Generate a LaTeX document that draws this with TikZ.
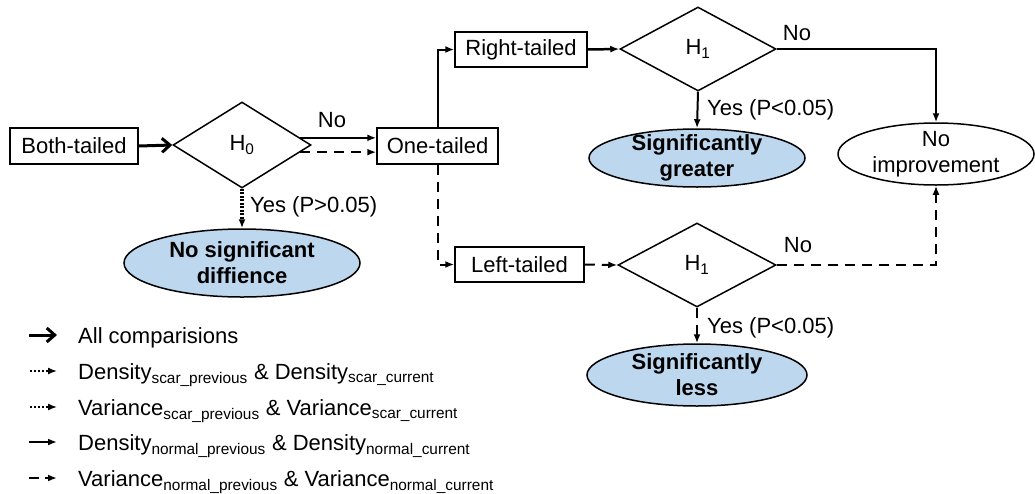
\documentclass[tikz,border=0pt]{standalone}
\usepackage{fontspec}
\setmainfont{Liberation Sans}
\usetikzlibrary{shapes.geometric,arrows.meta}
\definecolor{ellfill}{RGB}{189,215,238}
\begin{document}
\begin{tikzpicture}[x=1pt,y=-1pt,
  font=\fontsize{22}{26}\selectfont,
  box/.style={draw,line width=1.5pt,minimum height=36pt,inner sep=0pt},
  dia/.style={draw,diamond,line width=1.5pt,inner sep=0pt},
  ell/.style={draw,ellipse,line width=1.5pt,inner sep=0pt},
  res/.style={ell,fill=ellfill},
  lab/.style={inner sep=0pt},
  yeslab/.style={inner sep=0pt,anchor=west,font=\fontsize{22}{26}\selectfont},
  txt/.style={inner sep=0pt,align=center},
  legtxt/.style={inner sep=0pt,anchor=base west},
  tip/.style={-{Latex[length=9pt,width=7pt]}},
  conn/.style={line width=2pt,tip},
  dashedconn/.style={conn,dash pattern=on 10pt off 7pt},
  dottedconn/.style={line width=3.5pt,dash pattern=on 2pt off 1.5pt,tip},
  thickconn/.style={line width=3pt,-{Straight Barb[length=8pt,width=14pt,line width=3pt]}},
]
\useasboundingbox (0,0) rectangle (1035,493);

% boxes
\node[box,minimum width=128pt] (both) at (74,146) {Both-tailed};
\node[box,minimum width=121pt] (one) at (437.5,146) {One-tailed};
\node[box,minimum width=132pt,minimum height=35pt] (right) at (521,49.5) {Right-tailed};
\node[box,minimum width=129pt,minimum height=35pt] (left) at (519.5,264.5) {Left-tailed};

% diamonds
\node[dia,minimum width=138pt,minimum height=86pt] (h0) at (242,145) {H\textsubscript{0}};
\node[dia,minimum width=156pt,minimum height=84pt] (h1a) at (698,49) {H\textsubscript{1}};
\node[dia,minimum width=158pt,minimum height=84pt] (h1b) at (697,265) {H\textsubscript{1}};

% ellipses
\node[res,minimum width=236pt,minimum height=68pt] (nsd) at (242,263) {};
\node[txt] (nsdt) at (nsd) {\textbf{No significant}\\\textbf{diffience}};
\node[res,minimum width=216pt,minimum height=58pt] (sg) at (697,158) {};
\node[txt] (sgt) at (sg) {\textbf{Significantly}\\\textbf{greater}};
\node[res,minimum width=220pt,minimum height=62pt] (sl) at (697,375) {};
\node[txt] (slt) at (sl) {\textbf{Significantly}\\\textbf{less}};
\node[ell,minimum width=196pt,minimum height=62pt] (nimp) at (936,154) {};
\node[txt] (nimpt) at (nimp) {No\\improvement};

% connectors
\draw[thickconn] (both.east) -- (h0.west);
\draw[conn] (h0.7) -- (h0.7 -| one.west);
\draw[dashedconn] (h0.-7) -- (h0.-7 -| one.west);
\draw[dottedconn] (h0.south) -- (nsd.north);
\draw[conn] (one.north) |- (right.west);
\draw[dashedconn] (one.south) |- (left.west);
\draw[line width=2.5pt,tip] (right.east) -- (h1a.west);
\draw[conn] (h1a.south) -- (sg.north);
\draw[conn] (h1a.east) -| (nimp.north);
\draw[dashedconn] (left.east) -- (h1b.west);
\draw[dashedconn] (h1b.south) -- (sl.north);
\draw[dashedconn] (h1b.east) -| (nimp.south);

% labels
\node[lab] (lno0) at (332,120) {No};
\node[yeslab] (lyes0) at (250,207) {Yes (P>0.05)};
\node[lab] (lno1) at (797,33) {No};
\node[yeslab] (lyes1) at (707,110) {Yes (P<0.05)};
\node[lab] (lno2) at (798,245) {No};
\node[yeslab] (lyes2) at (707,328) {Yes (P<0.05)};

% legend
\coordinate (la1) at (29,335); \coordinate (lb1) at (57,335);
\coordinate (la2) at (30,371); \coordinate (lb2) at (57,371);
\coordinate (la3) at (30,407); \coordinate (lb3) at (57,407);
\coordinate (la4) at (29,442); \coordinate (lb4) at (57,442);
\coordinate (la5) at (29,478); \coordinate (lb5) at (57,478);
\draw[thickconn] (la1) -- (lb1);
\draw[line width=1.5pt,dash pattern=on 2pt off 2pt,tip] (la2) -- (lb2);
\draw[line width=1.5pt,dash pattern=on 2pt off 2pt,tip] (la3) -- (lb3);
\draw[conn] (la4) -- (lb4);
\draw[line width=2pt,dash pattern=on 10pt off 6pt,tip] (la5) -- (lb5);
\node[legtxt] (lt1) at (78,343) {All comparisions};
\node[legtxt] (lt2) at (78,379) {Density\textsubscript{scar\_previous} \& Density\textsubscript{scar\_current}};
\node[legtxt] (lt3) at (78,415) {Variance\textsubscript{scar\_previous} \& Variance\textsubscript{scar\_current}};
\node[legtxt] (lt4) at (78,450) {Density\textsubscript{normal\_previous} \& Density\textsubscript{normal\_current}};
\node[legtxt] (lt5) at (78,486) {Variance\textsubscript{normal\_previous} \& Variance\textsubscript{normal\_current}};
\end{tikzpicture}
\end{document}
